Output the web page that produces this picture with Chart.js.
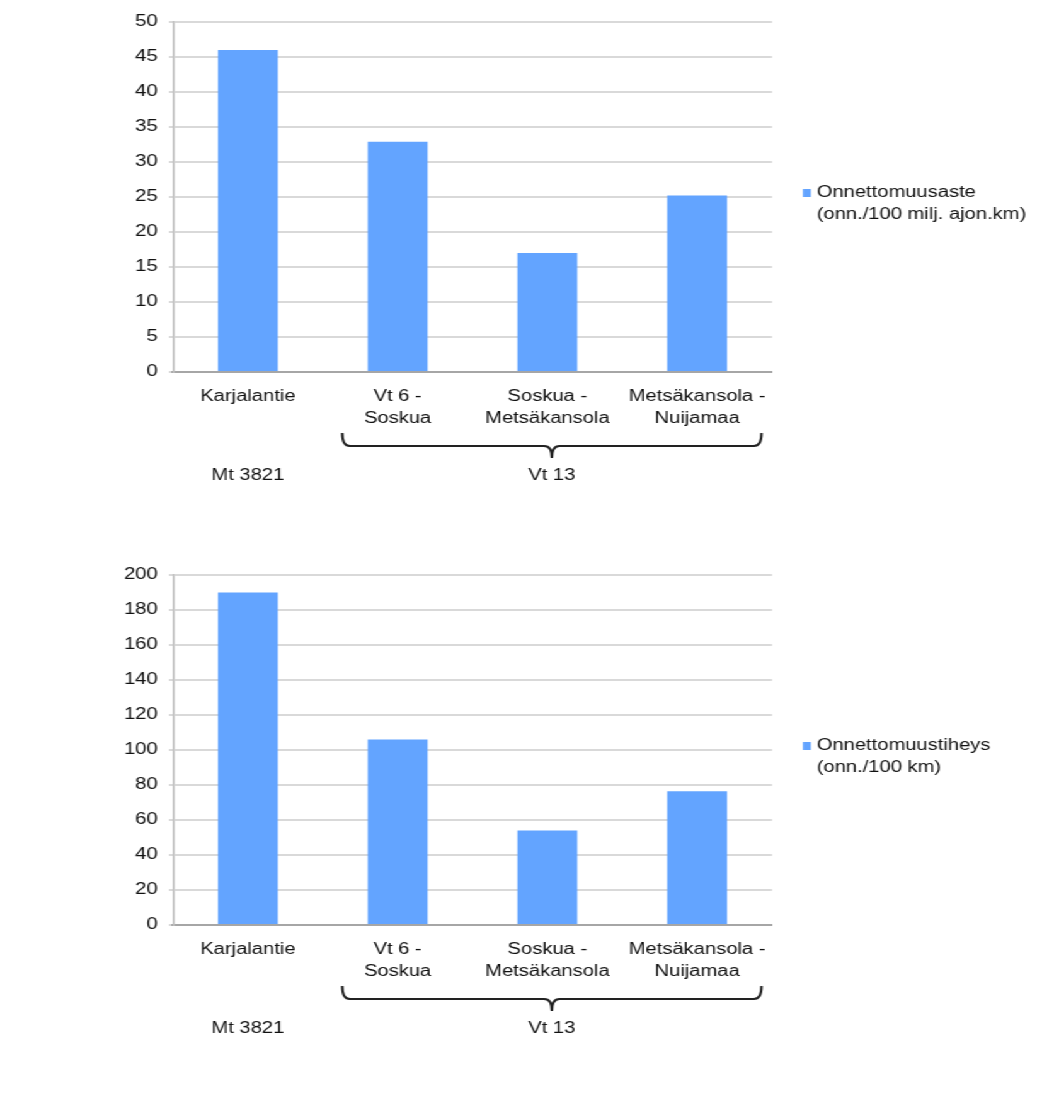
<!DOCTYPE html>
<html>
<head>
<meta charset="utf-8">
<script src="https://cdn.jsdelivr.net/npm/chart.js@4.4.1/dist/chart.umd.min.js"></script>
<style>
  html, body { margin: 0; padding: 0; background: #fff; overflow: hidden; }
  /* the source picture is stretched sideways, so the whole drawing is too */
  #wrap { width: 823px; transform: scaleX(1.26); transform-origin: 0 0; }
  canvas { display: block; }
</style>
</head>
<body>
<div id="wrap">
  <canvas id="rate" width="823" height="553"></canvas>
  <canvas id="density" width="823" height="553"></canvas>
</div>
<script>
const categories = [
  ['Karjalantie'],
  ['Vt 6 -', 'Soskua'],
  ['Soskua -', 'Metsäkansola'],
  ['Metsäkansola -', 'Nuijamaa'],
];
const rateValues = [46, 32.9, 17.0, 25.2];
const densityValues = [190, 106, 54, 76.5];
const rateLabel = ['Onnettomuusaste', '(onn./100 milj. ajon.km)'];
const densityLabel = ['Onnettomuustiheys', '(onn./100 km)'];
const rateAxis = { max: 50, step: 5 };
const densityAxis = { max: 200, step: 20 };
const roadGroups = [
  { label: 'Mt 3821', from: 0, to: 0 },
  { label: 'Vt 13', from: 1, to: 3 },
];

const FONT = { family: "'Liberation Sans', Arial, sans-serif", size: 16 };
const TEXT = '#111';
const BAR = '#63a4ff';

// legend to the right of the plot, label is two lines
const sideLegend = {
  id: 'sideLegend',
  afterDraw(chart) {
    const { ctx, chartArea } = chart;
    const ds = chart.data.datasets[0];
    const midY = (chartArea.top + chartArea.bottom) / 2;
    const x = chartArea.right + 24.5;
    const y1 = midY - 4;
    ctx.save();
    ctx.fillStyle = ds.backgroundColor;
    ctx.fillRect(x, y1 - 4, 6.3, 8);
    ctx.fillStyle = TEXT;
    ctx.font = `${FONT.size}px ${FONT.family}`;
    ctx.textBaseline = 'middle';
    ctx.textAlign = 'left';
    ds.label.forEach((line, i) => ctx.fillText(line, x + 11, y1 + i * 21.5));
    ctx.restore();
  },
};

// road names under the categories, with a brace for multi-section roads
const roadBraces = {
  id: 'roadBraces',
  afterDraw(chart) {
    const { ctx, chartArea } = chart;
    const xs = chart.scales.x;
    const catW = (chartArea.right - chartArea.left) / categories.length;
    const top = chartArea.bottom + 61;
    const lineY = chartArea.bottom + 74;
    const tipY = chartArea.bottom + 86;
    ctx.save();
    ctx.font = `${FONT.size}px ${FONT.family}`;
    ctx.fillStyle = TEXT;
    ctx.textAlign = 'center';
    ctx.textBaseline = 'middle';
    roadGroups.forEach(g => {
      let mid = xs.getPixelForValue(g.from);
      if (g.to > g.from) {
        const l = xs.getPixelForValue(g.from) - 0.37 * catW;
        const r = xs.getPixelForValue(g.to) + 0.43 * catW;
        mid = (l + r) / 2;
        ctx.strokeStyle = '#222';
        ctx.lineWidth = 2;
        ctx.beginPath();
        ctx.moveTo(l, top);
        ctx.quadraticCurveTo(l, lineY, l + 6, lineY);
        ctx.lineTo(mid - 6, lineY);
        ctx.quadraticCurveTo(mid, lineY, mid, tipY);
        ctx.quadraticCurveTo(mid, lineY, mid + 6, lineY);
        ctx.lineTo(r - 6, lineY);
        ctx.quadraticCurveTo(r, lineY, r, top);
        ctx.stroke();
      }
      ctx.fillText(g.label, mid, chartArea.bottom + 104);
    });
    ctx.restore();
  },
};

function makeChart(id, values, label, axis) {
  return new Chart(document.getElementById(id), {
    type: 'bar',
    data: {
      labels: categories,
      datasets: [{
        label,
        data: values,
        backgroundColor: BAR,
        borderWidth: 0,
        categoryPercentage: 1,
        barPercentage: 0.4,
      }],
    },
    options: {
      responsive: false,
      animation: false,
      layout: { padding: { top: 22, right: 823 - 612.7, left: 0, bottom: 0 } },
      plugins: { legend: { display: false }, tooltip: { enabled: false } },
      scales: {
        x: {
          grid: { display: false, drawTicks: false },
          border: { color: '#a6a6a6', width: 2 },
          ticks: {
            color: TEXT,
            font: { ...FONT, lineHeight: 1.375 },
            padding: 14,
            maxRotation: 0,
            autoSkip: false,
          },
          afterFit: s => { s.height = 181; },
        },
        y: {
          min: 0,
          max: axis.max,
          ticks: { stepSize: axis.step, color: TEXT, font: FONT, padding: 9 },
          grid: { color: '#d9d9d9', lineWidth: 2, tickLength: 3.2 },
          border: { color: '#bfbfbf', width: 1.6 },
          afterFit: s => { s.width = 137.3; },
        },
      },
    },
    plugins: [sideLegend, roadBraces],
  });
}

makeChart('rate', rateValues, rateLabel, rateAxis);
makeChart('density', densityValues, densityLabel, densityAxis);
</script>
</body>
</html>
